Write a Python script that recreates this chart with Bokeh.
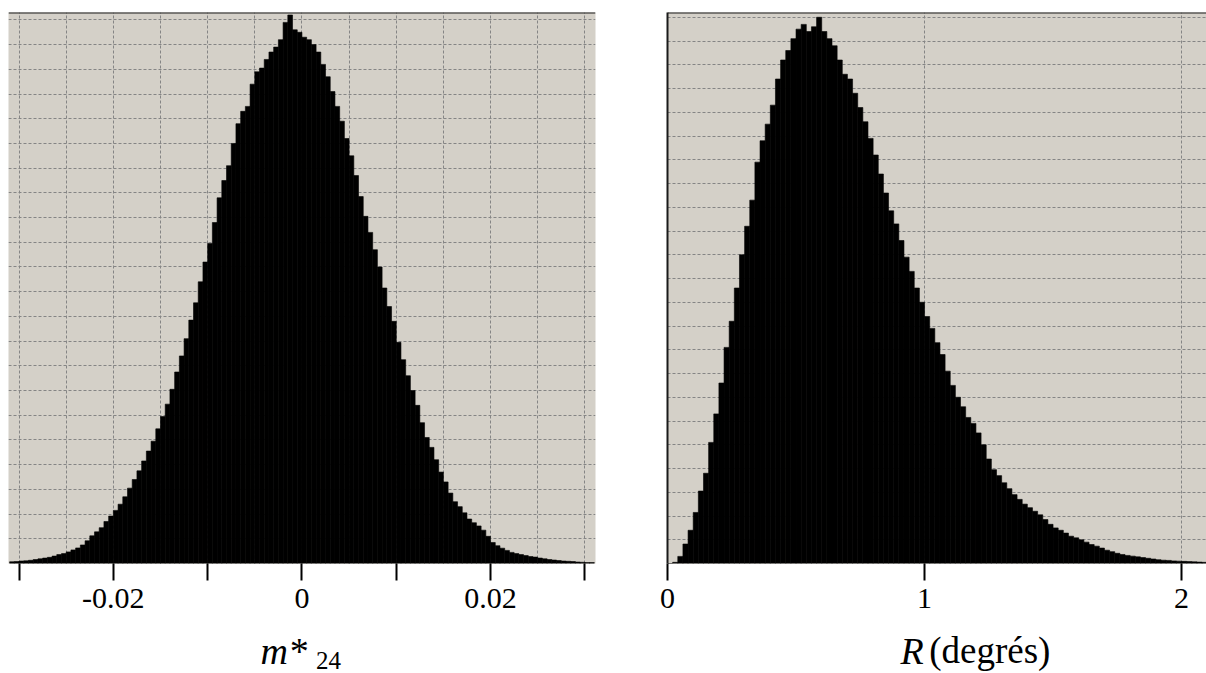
from bokeh.plotting import figure
from bokeh.layouts import row, column
from bokeh.models import FixedTicker, Span, Range1d
from bokeh.core.properties import value
from bokeh.embed import file_html
from bokeh.resources import INLINE

# ---------------- data ----------------
# Left panel: histogram of m*_24 (heights in grid units)
m24_bin_start = -0.031
m24_bin_width = 0.0005
m24_counts = [
    0.07, 0.08, 0.10, 0.11, 0.13, 0.16, 0.19, 0.22, 0.25, 0.30,
    0.36, 0.40, 0.47, 0.55, 0.63, 0.75, 0.92, 1.12, 1.28, 1.45,
    1.70, 1.92, 2.15, 2.40, 2.70, 3.05, 3.40, 3.75, 4.15, 4.55,
    4.95, 5.45, 5.95, 6.45, 7.05, 7.75, 8.40, 9.10, 9.85, 10.55,
    11.40, 12.20, 12.95, 13.80, 14.80, 15.50, 16.10, 17.00, 17.80, 18.30,
    18.50, 19.40, 19.90, 20.05, 20.40, 20.70, 20.90, 21.20, 21.90, 22.20,
    21.60, 21.50, 21.30, 21.20, 21.00, 20.70, 20.20, 19.70, 19.10, 18.50,
    17.90, 17.20, 16.50, 15.70, 14.85, 14.05, 13.40, 12.70, 12.00, 11.15,
    10.40, 9.80, 8.95, 8.25, 7.60, 7.00, 6.40, 5.70, 5.10, 4.70,
    4.20, 3.70, 3.30, 2.85, 2.50, 2.30, 2.05, 1.80, 1.65, 1.52,
    1.35, 1.10, 0.85, 0.72, 0.62, 0.53, 0.45, 0.40, 0.36, 0.32,
    0.28, 0.26, 0.22, 0.19, 0.16, 0.14, 0.12, 0.10, 0.09, 0.08,
    0.06, 0.05, 0.04, 0.04,
]
m24_ticks = [-0.03, -0.02, -0.01, 0.0, 0.01, 0.02, 0.03]
m24_tick_labels = ["", "-0.02", "", "0", "", "0.02", ""]

# Right panel: histogram of R (degrees)
R_bin_start = 0.0
R_bin_width = 0.02
R_counts = [
    0.00, 0.05, 0.30, 0.82, 1.40, 2.15, 3.05, 3.80, 5.10, 6.30,
    7.60, 9.10, 10.20, 11.60, 13.00, 14.20, 15.30, 16.90, 17.80, 18.50,
    19.30, 20.40, 21.20, 21.60, 22.10, 22.50, 22.70, 22.40, 22.60, 23.00,
    22.40, 22.10, 21.80, 21.20, 20.60, 20.40, 19.80, 19.20, 18.60, 17.90,
    17.20, 16.40, 15.60, 14.85, 14.30, 13.60, 12.90, 12.30, 11.60, 11.00,
    10.40, 9.90, 9.30, 8.80, 8.10, 7.50, 7.00, 6.60, 6.15, 5.90,
    5.50, 5.00, 4.40, 3.95, 3.70, 3.40, 3.15, 2.90, 2.70, 2.50,
    2.35, 2.20, 2.05, 1.85, 1.65, 1.50, 1.40, 1.28, 1.15, 1.08,
    1.00, 0.90, 0.80, 0.73, 0.65, 0.56, 0.50, 0.43, 0.38, 0.34,
    0.31, 0.28, 0.25, 0.22, 0.19, 0.16, 0.14, 0.13, 0.11, 0.10,
    0.09, 0.08, 0.07, 0.06, 0.05,
]
R_ticks = [0, 1, 2]
R_tick_labels = ["0", "1", "2"]

# axis titles
m24_title_main = "m*"
m24_title_sub = "24"
R_title_var = "R"
R_title_unit = "(degrés)"

# ---------------- style ----------------
BG = "#d4d0c8"
GRID = "#858585"
DARK = "#1a1a1a"
SERIF = "'Liberation Serif', 'Times New Roman', 'DejaVu Serif', serif"
FIG_H = 620
TOP = 12
BOTTOM = 57
TITLE_H = 53

L_W, L_BL, L_BR = 608, 8, 13
R_W, R_BL, R_BR = 598, 59, 0


def base_fig(width, x_range, y_end, left, right):
    p = figure(width=width, height=FIG_H, output_backend="svg", toolbar_location=None,
               x_range=x_range, y_range=Range1d(0, y_end),
               min_border_left=left, min_border_right=right,
               min_border_top=TOP, min_border_bottom=BOTTOM)
    p.background_fill_color = BG
    p.border_fill_color = "white"
    p.outline_line_color = None
    for g in (p.xgrid[0], p.ygrid[0]):
        g.grid_line_color = GRID
        g.grid_line_dash = "3 2"
        g.grid_line_width = 1
    ax = p.xaxis[0]
    ax.axis_line_color = None
    ax.major_tick_line_color = "black"
    ax.major_tick_line_width = 2
    ax.major_tick_out = 17
    ax.major_tick_in = 0
    ax.minor_tick_line_color = None
    ax.major_label_standoff = 8
    ax.major_label_text_font = SERIF
    ax.major_label_text_font_size = "30px"
    ax.major_label_text_color = "black"
    p.add_layout(Span(location=y_end, dimension="width", line_color=DARK, line_width=2))
    return p


def title_fig(width, x_range, left, right):
    t = figure(width=width, height=TITLE_H, output_backend="svg", toolbar_location=None,
               x_range=x_range, y_range=Range1d(0, TITLE_H),
               x_axis_location=None, y_axis_location=None,
               min_border_left=left, min_border_right=right,
               min_border_top=0, min_border_bottom=0)
    t.grid.visible = False
    t.outline_line_color = None
    t.background_fill_color = "white"
    t.border_fill_color = "white"
    return t


# ---- left panel ----
L_Y_END = 22.3
lx = Range1d(-0.03112, 0.03113)
left = base_fig(L_W, lx, L_Y_END, L_BL, L_BR)
m24_centers = [m24_bin_start + m24_bin_width * (i + 0.5) for i in range(len(m24_counts))]
left.vbar(x=m24_centers, top=m24_counts, width=m24_bin_width,
          fill_color="black", line_color="black", line_width=0.6)
left.xaxis[0].ticker = FixedTicker(ticks=m24_ticks)
left.xaxis[0].major_label_overrides = dict(zip(m24_ticks, m24_tick_labels))
left.xgrid[0].ticker = FixedTicker(ticks=[-0.03 + 0.005 * k for k in range(13)])
left.ygrid[0].ticker = FixedTicker(ticks=list(range(1, 23)))
left.yaxis.visible = False

tl = title_fig(L_W, lx, L_BL, L_BR)
tl.text(x=[-0.0044], y=[23], text=[m24_title_main], text_font=value(SERIF),
        text_font_style="italic", text_font_size=value("38px"),
        text_baseline="alphabetic", text_align="left", text_color="black")
tl.text(x=[0.0015], y=[13], text=[m24_title_sub], text_font=value(SERIF),
        text_font_size=value("25px"), text_baseline="alphabetic",
        text_align="left", text_color="black")

# ---- right panel ----
R_Y_END = 23.2
rx = Range1d(0.0, 2.097)
right = base_fig(R_W, rx, R_Y_END, R_BL, R_BR)
R_centers = [R_bin_start + R_bin_width * (i + 0.5) for i in range(len(R_counts))]
right.vbar(x=R_centers, top=R_counts, width=R_bin_width,
           fill_color="black", line_color="black", line_width=0.6)
right.xaxis[0].ticker = FixedTicker(ticks=R_ticks)
right.xaxis[0].major_label_overrides = dict(zip(R_ticks, R_tick_labels))
right.xgrid[0].ticker = FixedTicker(ticks=[1, 2])
right.ygrid[0].ticker = FixedTicker(ticks=list(range(1, 24)))
ya = right.yaxis[0]
ya.ticker = FixedTicker(ticks=[])
ya.axis_line_color = DARK
ya.axis_line_width = 2
ya.major_tick_line_color = None
ya.minor_tick_line_color = None

tr = title_fig(R_W, rx, R_BL, R_BR)
tr.text(x=[0.9066], y=[23], text=[R_title_var], text_font=value(SERIF),
        text_font_style="italic", text_font_size=value("38px"),
        text_baseline="alphabetic", text_align="left", text_color="black")
tr.text(x=[1.018], y=[23], text=[R_title_unit], text_font=value(SERIF),
        text_font_size=value("37px"), text_baseline="alphabetic",
        text_align="left", text_color="black")

layout = column(row(left, right), row(tl, tr))
open("out.html", "w").write(file_html(layout, INLINE))
